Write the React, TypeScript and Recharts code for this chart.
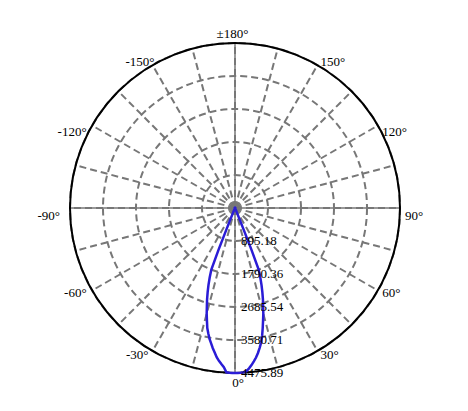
import React from 'react';
import { RadarChart, Radar, PolarGrid, PolarAngleAxis, PolarRadiusAxis } from 'recharts';

// Angle (degrees, 0 = straight down) and luminous intensity (cd)
const angles = [
  -180, -150, -120, -90, -60, -40, -30, -25, -23, -22, -21.5, -21, -20, -19, -18, -17, -16, -15, -14, -13, -12, -11,
  -10, -9, -8, -7, -6, -5, -4, -3, -2, -1,
  0, 1, 2, 3, 4, 5, 6, 7, 8, 9, 10, 11, 12, 13, 14, 15, 16, 17, 18, 19, 20, 21, 21.5, 22, 23, 25, 30, 40, 60, 90,
  120, 150, 180,
];
const intensity = [
  10, 10, 10, 10, 10, 12, 15, 27, 81, 407, 1221, 1790, 2007, 2211, 2401, 2591, 2767, 2968, 3147, 3342, 3480, 3620,
  3730, 3850, 3960, 4080, 4170, 4250, 4330, 4462, 4470, 4474,
  4475.89, 4474, 4470, 4462, 4435, 4367, 4286, 4191, 4096, 3982, 3852, 3716, 3540, 3342, 3147, 2968, 2767, 2591,
  2401, 2211, 2007, 1790, 1221, 407, 81, 27, 15, 12, 10, 10, 10, 10, 10,
];

const angleTicks = [-150, -120, -90, -60, -30, 0, 30, 60, 90, 120, 150, 180];
const radiusTicks = [0, 895.18, 1790.36, 2685.54, 3580.71, 4475.89];
const radiusMax = 4475.89;
const gridAngles = [0, 15, 30, 45, 60, 75, 90, 105, 120, 135, 150, 165, 180, 195, 210, 225, 240, 255, 270, 285, 300, 315, 330, 345];
const axisAngles = [0, 90, 180, 270];

const data = angles.map((a, i) => ({ angle: a, value: intensity[i] }));

const FONT = "'Liberation Serif', 'Times New Roman', serif";
const CX = 235;
const CY = 208;
const R = 165;

const AngleTick = (props: any) => {
  const { x, y, payload, textAnchor } = props;
  const v = payload.value;
  const a = Math.abs(v);
  let dy = 4.5;
  if (v === 180) dy = -1;
  else if (v === 0) dy = 10;
  else if (a === 90 || a === 120) dy = 12;
  let dx = 0;
  if (textAnchor === 'start') dx = 1;
  else if (textAnchor === 'end') dx = v === -90 ? -6 : v === -150 ? 4 : -2;
  else dx = v === 0 ? 3 : -2.5;
  const label = v === 180 ? '±180°' : `${v}°`;
  return (
    <text x={x + dx} y={y + dy} textAnchor={textAnchor} fontFamily={FONT} fontSize={13} fill="#000">
      {label}
    </text>
  );
};

const RadiusTick = (props: any) => {
  const { x, y, payload } = props;
  if (!payload.value) return <g />;
  return (
    <text x={x + 6} y={y + 4.5} textAnchor="start" fontFamily={FONT} fontSize={13} fill="#000">
      {String(payload.value)}
    </text>
  );
};

export default function App() {
  return (
    <div style={{ position: 'absolute', left: 0, top: 0, width: 468, height: 411, background: '#fff' }}>
      <RadarChart
        width={468}
        height={411}
        data={data}
        cx={CX}
        cy={CY}
        outerRadius={R}
        startAngle={90}
        endAngle={450}
        margin={{ top: 0, right: 0, bottom: 0, left: 0 }}
      >
        <PolarGrid gridType="circle" polarAngles={gridAngles} stroke="#777" strokeWidth={2} strokeDasharray="7 4" />
        <PolarGrid gridType="circle" polarAngles={axisAngles} polarRadius={[]} stroke="#777" strokeWidth={1.5} />
        <PolarGrid gridType="circle" polarAngles={[]} polarRadius={[R]} stroke="#000" strokeWidth={2} />
        <PolarAngleAxis
          type="number"
          dataKey="angle"
          domain={[-180, 180]}
          ticks={angleTicks}
          tick={AngleTick}
          tickSize={4}
          axisLine={false}
          tickLine={false}
        />
        <PolarRadiusAxis
          type="number"
          angle={-90}
          domain={[0, radiusMax]}
          ticks={radiusTicks}
          tick={RadiusTick}
          axisLine={false}
          tickLine={false}
        />
        <Radar
          dataKey="value"
          stroke="#2a1cd6"
          strokeWidth={2.5}
          fill="none"
          fillOpacity={0}
          dot={false}
          isAnimationActive={false}
        />
      </RadarChart>
    </div>
  );
}
